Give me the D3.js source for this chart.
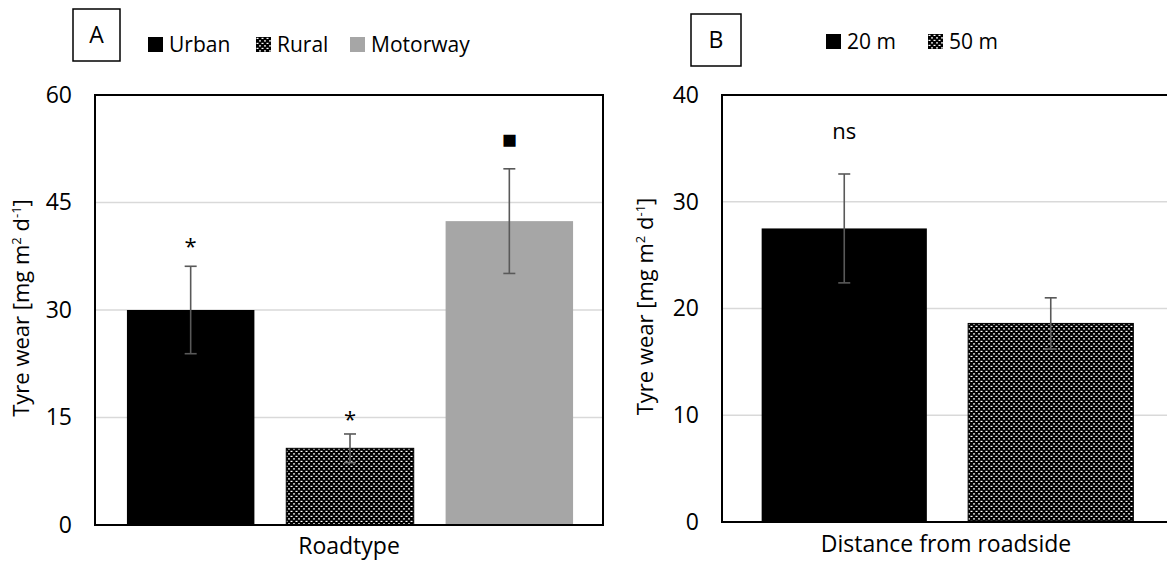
<!DOCTYPE html>
<html>
<head>
<meta charset="utf-8">
<script src="https://cdn.jsdelivr.net/npm/d3@7"></script>
<style>
  body { margin: 0; background: #fff; }
  text { font-family: "Open Sans", sans-serif; fill: #000; }
</style>
</head>
<body>
<script>
// values
var roadTypes = ["Urban", "Rural", "Motorway"];
var roadMeans = [30.0, 10.7, 42.4];
var roadErrs = [6.1, 2.0, 7.3];
var roadMarks = ["*", "*", "\u25A0"];
var roadMarkLevels = [39.5, 15.3, 53.8];
var roadTicks = [0, 15, 30, 45, 60];

var distances = ["20 m", "50 m"];
var distMeans = [27.5, 18.6];
var distErrs = [5.1, 2.4];
var distMarks = ["ns", ""];
var distMarkLevels = [36.6, 0];
var distTicks = [0, 10, 20, 30, 40];

var fills = { solid: "#000", dots: "url(#dots)", grey: "#a6a6a6" };

var svg = d3.select("body").append("svg")
    .attr("width", 1167)
    .attr("height", 563);

// small dotted pattern used by Rural / 50 m
var pat = svg.append("defs").append("pattern")
    .attr("id", "dots")
    .attr("patternUnits", "userSpaceOnUse")
    .attr("width", 5)
    .attr("height", 5);
pat.append("rect").attr("width", 5).attr("height", 5).attr("fill", "#000");
pat.append("rect").attr("x", 0.5).attr("y", 0.8).attr("width", 2).attr("height", 1.2).attr("fill", "#fff");
pat.append("rect").attr("x", 3).attr("y", 3.3).attr("width", 2).attr("height", 1.2).attr("fill", "#fff");

function drawPanel(p) {
    var g = svg.append("g");

    var x = d3.scaleBand()
        .domain(p.cats)
        .range(p.band)
        .paddingInner(0.2)
        .paddingOuter(0.1);
    var y = d3.scaleLinear()
        .domain([0, p.ticks[p.ticks.length - 1]])
        .range([p.bottom, p.top]);

    // gridlines
    g.append("g").selectAll("line")
        .data(p.ticks.slice(1, -1))
        .enter().append("line")
        .attr("x1", p.left).attr("x2", p.right)
        .attr("y1", d => y(d)).attr("y2", d => y(d))
        .attr("stroke", "#d9d9d9")
        .attr("stroke-width", 1.5);

    // bars
    g.append("g").selectAll("rect")
        .data(p.cats)
        .enter().append("rect")
        .attr("x", d => x(d))
        .attr("width", x.bandwidth())
        .attr("y", (d, i) => y(p.means[i]))
        .attr("height", (d, i) => y(0) - y(p.means[i]))
        .attr("fill", (d, i) => fills[p.fills[i]])
        .attr("stroke", (d, i) => p.fills[i] == "dots" ? "#000" : "none")
        .attr("stroke-width", 1);

    // error bars
    var eb = g.append("g").selectAll("g")
        .data(p.cats)
        .enter().append("g")
        .attr("stroke", "#595959")
        .attr("stroke-width", 1.6);
    eb.append("line")
        .attr("x1", d => x(d) + x.bandwidth() / 2)
        .attr("x2", d => x(d) + x.bandwidth() / 2)
        .attr("y1", (d, i) => y(p.means[i] + p.errs[i]))
        .attr("y2", (d, i) => y(p.means[i] - p.errs[i]));
    [1, -1].forEach(function(s) {
        eb.append("line")
            .attr("x1", d => x(d) + x.bandwidth() / 2 - 6)
            .attr("x2", d => x(d) + x.bandwidth() / 2 + 6)
            .attr("y1", (d, i) => y(p.means[i] + s * p.errs[i]))
            .attr("y2", (d, i) => y(p.means[i] + s * p.errs[i]));
    });

    // significance marks
    g.append("g").selectAll("text")
        .data(p.cats)
        .enter().append("text")
        .attr("x", d => x(d) + x.bandwidth() / 2)
        .attr("y", (d, i) => y(p.levels[i]))
        .attr("dy", (d, i) => p.marks[i] == "*" ? "0.53em" : "0.35em")
        .attr("text-anchor", "middle")
        .attr("font-size", (d, i) => p.marks[i] == "\u25A0" ? "25px" : "22px")
        .attr("fill", "#000")
        .text((d, i) => p.marks[i]);

    // frame: axes plus top/right border
    g.append("path")
        .attr("d", "M" + p.left + "," + p.bottom + "V" + p.top + "H" + p.right + "V" + p.bottom + "Z")
        .attr("fill", "none")
        .attr("stroke", "#000")
        .attr("stroke-width", 2);

    // y tick labels
    var ax = g.append("g")
        .attr("transform", "translate(" + p.left + ",0)")
        .call(d3.axisLeft(y).tickValues(p.ticks).tickSize(0).tickPadding(23));
    ax.select(".domain").remove();
    ax.selectAll("text")
        .attr("font-size", "23px")
        .attr("font-family", "'Open Sans', sans-serif")
        .attr("fill", "#000");

    // y title
    var yt = g.append("text")
        .attr("transform", "translate(" + p.ytX + "," + ((p.top + p.bottom) / 2 - 2) + ") rotate(-90)")
        .attr("text-anchor", "middle")
        .attr("font-size", "22px");
    yt.append("tspan").text("Tyre wear [mg m");
    yt.append("tspan").attr("dy", -8).attr("font-size", "13px").text("2");
    yt.append("tspan").attr("dy", 8).text(" d");
    yt.append("tspan").attr("dy", -8).attr("font-size", "13px").text("-1");
    yt.append("tspan").attr("dy", 8).text("]");

    // x title
    g.append("text")
        .attr("x", p.xtX)
        .attr("y", p.xtY)
        .attr("text-anchor", "middle")
        .attr("font-size", "23px")
        .text(p.xTitle);

    // panel letter box
    g.append("rect")
        .attr("x", p.box[0]).attr("y", p.box[1])
        .attr("width", p.box[2]).attr("height", p.box[3])
        .attr("fill", "none")
        .attr("stroke", "#000")
        .attr("stroke-width", 1.5);
    g.append("text")
        .attr("x", p.box[0] + p.box[2] / 2)
        .attr("y", p.box[1] + p.box[3] / 2 + 8)
        .attr("text-anchor", "middle")
        .attr("font-size", "23px")
        .text(p.letter);

    // legend
    var lg = g.append("g").selectAll("g")
        .data(p.cats)
        .enter().append("g")
        .attr("transform", (d, i) => "translate(" + p.legendX[i] + "," + p.legendY + ")");
    lg.append("rect")
        .attr("x", 0).attr("y", -15)
        .attr("width", 15).attr("height", 15)
        .attr("fill", (d, i) => fills[p.fills[i]]);
    lg.append("text")
        .attr("x", 21)
        .attr("y", 0)
        .attr("font-size", "21px")
        .text(d => d);
}

drawPanel({
    cats: roadTypes, means: roadMeans, errs: roadErrs,
    marks: roadMarks, levels: roadMarkLevels, ticks: roadTicks,
    fills: ["solid", "dots", "grey"],
    left: 95, right: 603, top: 95, bottom: 525, band: [111, 589],
    ytX: 29, xtX: 349, xtY: 554, xTitle: "Roadtype",
    box: [73, 9, 47, 52], letter: "A",
    legendX: [148, 256, 350], legendY: 52
});

drawPanel({
    cats: distances, means: distMeans, errs: distErrs,
    marks: distMarks, levels: distMarkLevels, ticks: distTicks,
    fills: ["solid", "dots"],
    left: 722, right: 1185, top: 95, bottom: 522, band: [741, 1154],
    ytX: 653, xtX: 946, xtY: 552, xTitle: "Distance from roadside",
    box: [691, 14, 50, 52], letter: "B",
    legendX: [826, 928], legendY: 49
});
</script>
</body>
</html>
